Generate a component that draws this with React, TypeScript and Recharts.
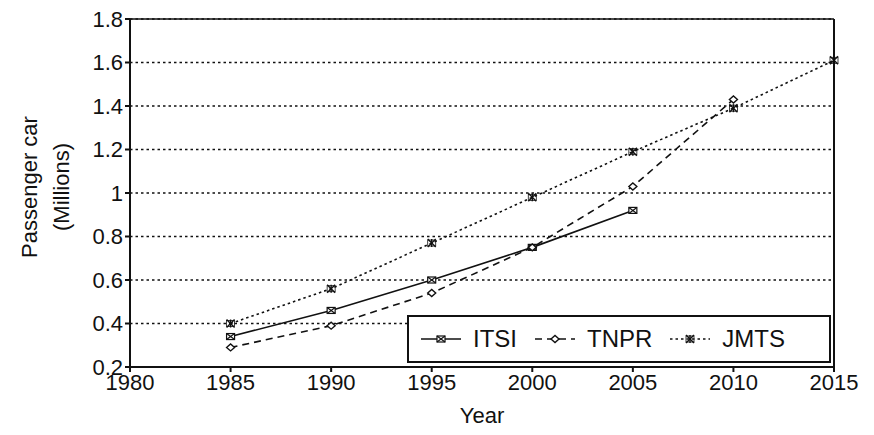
import React from "react"
import { LineChart, Line, XAxis, YAxis, CartesianGrid, ReferenceLine } from "recharts"

const years = [1985, 1990, 1995, 2000, 2005, 2010, 2015]
const itsi = [0.34, 0.46, 0.6, 0.75, 0.92]
const tnpr = [0.29, 0.39, 0.54, 0.75, 1.03, 1.43]
const jmts = [0.4, 0.56, 0.77, 0.98, 1.19, 1.39, 1.61]

const xTicks = [1980, 1985, 1990, 1995, 2000, 2005, 2010, 2015]
const yTicks = [0.2, 0.4, 0.6, 0.8, 1, 1.2, 1.4, 1.6, 1.8]

const data = years.map((year, i) => ({
  year,
  ITSI: itsi[i],
  TNPR: tnpr[i],
  JMTS: jmts[i],
}))

const FONT = "'Liberation Sans', Arial, sans-serif"
const INK = "#111"

type Kind = "square" | "diamond" | "star"

function Marker({ kind, cx, cy }: { kind: Kind; cx: number; cy: number }) {
  if (kind === "square") {
    return (
      <g stroke={INK} strokeWidth={1.2} fill="#fff">
        <rect x={cx - 4} y={cy - 3} width={8} height={6} />
        <line x1={cx - 4} y1={cy - 3} x2={cx + 4} y2={cy + 3} />
        <line x1={cx - 4} y1={cy + 3} x2={cx + 4} y2={cy - 3} />
      </g>
    )
  }
  if (kind === "diamond") {
    return (
      <g stroke={INK} strokeWidth={1.4} fill="#fff">
        <path d={`M${cx - 4},${cy} L${cx},${cy - 3.5} L${cx + 4},${cy} L${cx},${cy + 3.5} Z`} />
      </g>
    )
  }
  return (
    <g stroke={INK} strokeWidth={1.4} fill="none">
      <line x1={cx - 4} y1={cy - 4} x2={cx + 4} y2={cy + 4} />
      <line x1={cx - 4} y1={cy + 4} x2={cx + 4} y2={cy - 4} />
      <line x1={cx} y1={cy - 4} x2={cx} y2={cy + 4} />
      <rect x={cx - 4} y={cy - 3} width={8} height={6} strokeWidth={0.8} />
    </g>
  )
}

const dotFor = (kind: Kind) => (props: any) => {
  const { cx, cy, index, value } = props
  if (cx == null || cy == null || value == null) return <g key={index} />
  return <Marker key={index} kind={kind} cx={cx} cy={cy} />
}

const series = [
  { name: "ITSI", kind: "square" as Kind, dash: undefined as string | undefined },
  { name: "TNPR", kind: "diamond" as Kind, dash: "7 5" },
  { name: "JMTS", kind: "star" as Kind, dash: "2.5 3" },
]

// legend sits inside the plot, over the lower right corner
function LegendBox() {
  return (
    <div style={{
      position: "absolute", left: 407, top: 315, width: 424, height: 48,
      border: `2px solid ${INK}`, background: "#fff",
      display: "flex", alignItems: "center", fontFamily: FONT, fontSize: 24, color: INK,
      boxSizing: "border-box", paddingLeft: 10,
    }}>
      {series.map((s) => (
        <div key={s.name} style={{ display: "flex", alignItems: "center", marginRight: 16 }}>
          <svg width={44} height={20} style={{ marginRight: 10 }}>
            <line x1={2} y1={10} x2={42} y2={10} stroke={INK} strokeWidth={1.5} strokeDasharray={s.dash} />
            <Marker kind={s.kind} cx={22} cy={10} />
          </svg>
          <span>{s.name}</span>
        </div>
      ))}
    </div>
  )
}

function YLabel(props: any) {
  const { viewBox } = props
  const cy = viewBox.y + viewBox.height / 2 - 6
  return (
    <g fontFamily={FONT} fontSize={22} fill={INK}>
      <text x={0} y={0} transform={`translate(37, ${cy}) rotate(-90)`} textAnchor="middle">Passenger car</text>
      <text x={0} y={0} transform={`translate(69, ${cy}) rotate(-90)`} textAnchor="middle">(Millions)</text>
    </g>
  )
}

export default function App() {
  return (
    <div style={{ position: "absolute", left: 0, top: 0, width: 874, height: 435, background: "#fff" }}>
      <LineChart width={874} height={435} data={data} margin={{ top: 19, right: 40, left: 0, bottom: 6 }}>
        <CartesianGrid vertical={false} stroke={INK} strokeWidth={1.6} strokeDasharray="2.5 3" />
        <XAxis
          dataKey="year"
          type="number"
          domain={[1980, 2015]}
          ticks={xTicks}
          height={62}
          tickSize={5}
          stroke={INK}
          strokeWidth={2}
          tick={{ fontFamily: FONT, fontSize: 22, fill: INK }}
          label={{ value: "Year", position: "insideBottom", offset: 6, style: { fontFamily: FONT, fontSize: 22, fill: INK } }}
        />
        <YAxis
          type="number"
          domain={[0.2, 1.8]}
          ticks={yTicks}
          width={130}
          tickSize={5}
          stroke={INK}
          strokeWidth={2}
          tickFormatter={(v: number) => String(Number(v.toFixed(1)))}
          tick={{ fontFamily: FONT, fontSize: 22, fill: INK }}
          label={<YLabel />}
        />
        <ReferenceLine y={1.8} stroke={INK} strokeWidth={1.5} />
        <ReferenceLine x={2015} stroke={INK} strokeWidth={2} />
        {series.map((s) => (
          <Line
            key={s.name}
            dataKey={s.name}
            stroke={INK}
            strokeWidth={1.6}
            strokeDasharray={s.dash}
            dot={dotFor(s.kind)}
            activeDot={false}
            isAnimationActive={false}
          />
        ))}
      </LineChart>
      <LegendBox />
    </div>
  )
}
